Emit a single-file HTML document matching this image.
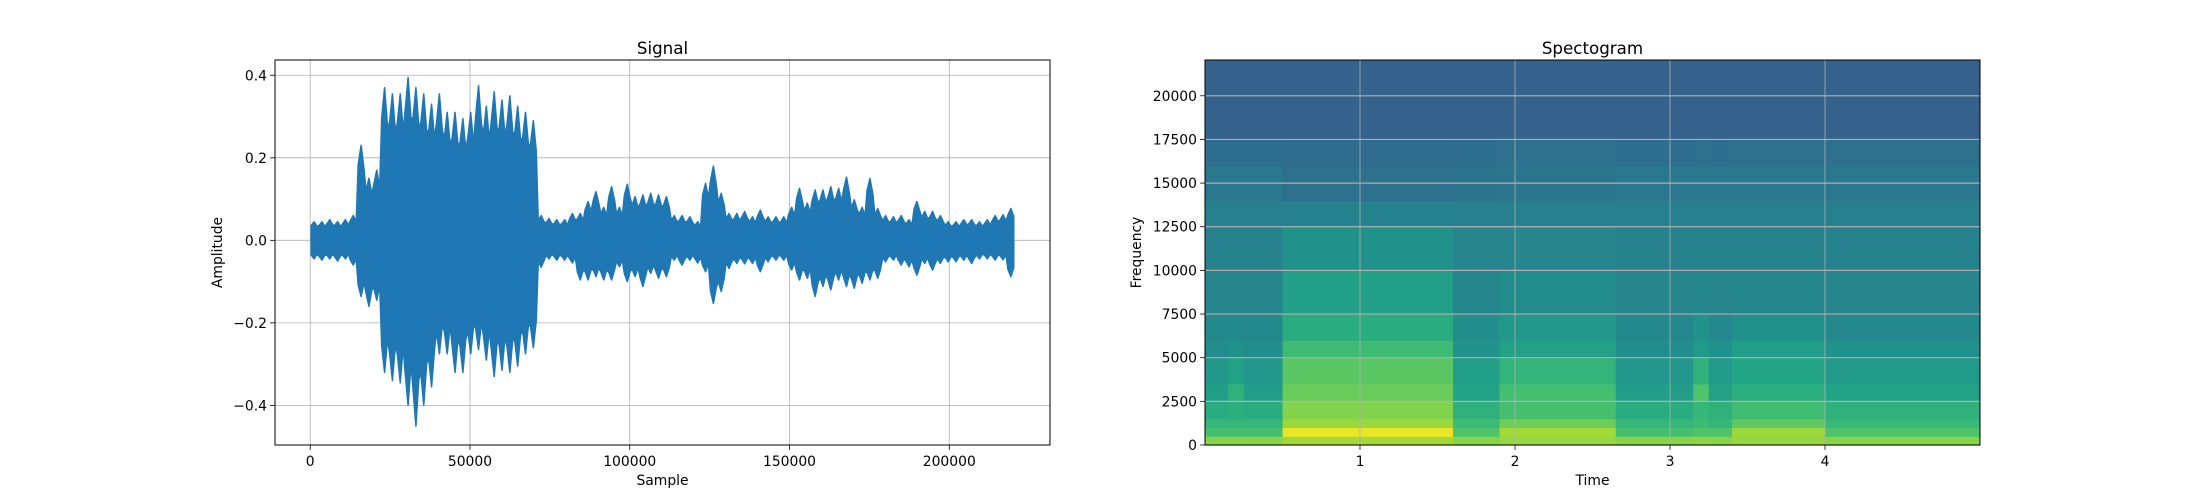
<!DOCTYPE html>
<html><head><meta charset="utf-8"><style>
html,body{margin:0;padding:0;background:#fff;}
svg{display:block;font-family:"DejaVu Sans","Liberation Sans",sans-serif;}
</style></head><body>
<svg id="fig" width="2200" height="500" xmlns="http://www.w3.org/2000/svg"></svg>
<script>
// ---- Signal data: per-bin envelope (bin = 2450 samples) ----
const binSize = 2450;
const sigMax = [0.045,0.045,0.05,0.045,0.05,0.06,0.23,0.15,0.17,0.37,0.355,0.355,0.395,0.37,0.355,0.33,0.355,0.31,0.31,0.295,0.31,0.375,0.325,0.36,0.34,0.35,0.325,0.31,0.29,0.06,0.053,0.05,0.05,0.065,0.065,0.094,0.118,0.08,0.13,0.08,0.136,0.106,0.11,0.114,0.11,0.106,0.06,0.06,0.057,0.045,0.138,0.18,0.114,0.065,0.065,0.07,0.057,0.073,0.057,0.057,0.057,0.08,0.126,0.09,0.122,0.122,0.13,0.126,0.153,0.098,0.08,0.15,0.077,0.06,0.057,0.06,0.05,0.094,0.07,0.07,0.06,0.045,0.045,0.05,0.05,0.045,0.05,0.06,0.062,0.077];
const sigMin = [-0.045,-0.048,-0.045,-0.05,-0.045,-0.06,-0.136,-0.16,-0.145,-0.32,-0.34,-0.345,-0.40,-0.45,-0.40,-0.355,-0.275,-0.275,-0.32,-0.32,-0.275,-0.265,-0.29,-0.33,-0.315,-0.32,-0.305,-0.275,-0.26,-0.065,-0.045,-0.048,-0.048,-0.055,-0.096,-0.096,-0.088,-0.096,-0.096,-0.064,-0.1,-0.088,-0.112,-0.08,-0.092,-0.088,-0.048,-0.06,-0.048,-0.055,-0.076,-0.153,-0.124,-0.068,-0.056,-0.057,-0.056,-0.076,-0.052,-0.048,-0.048,-0.072,-0.096,-0.092,-0.136,-0.112,-0.12,-0.096,-0.112,-0.116,-0.104,-0.096,-0.092,-0.052,-0.048,-0.06,-0.064,-0.084,-0.056,-0.072,-0.056,-0.052,-0.052,-0.048,-0.056,-0.045,-0.045,-0.048,-0.047,-0.088];
const sigXTicks = [0,50000,100000,150000,200000];
const sigXTickLabels = ["0","50000","100000","150000","200000"];
const sigYTicks = [-0.4,-0.2,0.0,0.2,0.4];
const sigYTickLabels = ["\u22120.4","\u22120.2","0.0","0.2","0.4"];

// ---- Spectrogram data ----
const timeEdges = [0,0.15,0.25,0.5,1.6,1.9,2.65,3.15,3.25,3.4,4.0,5.0];
const freqEdges = [0,500,1000,1500,2500,3500,5000,6000,7500,10000,12500,14000,16000,17500,22050];
const specValues = [
 [0.82,0.82,0.82,0.86,0.82,0.84,0.82,0.83,0.82,0.84,0.82],
 [0.70,0.70,0.70,0.97,0.72,0.86,0.70,0.72,0.72,0.85,0.72],
 [0.66,0.66,0.66,0.85,0.68,0.78,0.66,0.68,0.66,0.75,0.67],
 [0.62,0.63,0.62,0.81,0.64,0.70,0.62,0.66,0.64,0.69,0.64],
 [0.55,0.64,0.55,0.77,0.58,0.70,0.55,0.72,0.57,0.63,0.58],
 [0.52,0.58,0.52,0.74,0.56,0.65,0.52,0.64,0.54,0.59,0.54],
 [0.48,0.50,0.48,0.68,0.51,0.57,0.48,0.54,0.50,0.55,0.50],
 [0.47,0.47,0.47,0.62,0.49,0.53,0.47,0.51,0.47,0.50,0.47],
 [0.45,0.45,0.45,0.56,0.46,0.48,0.45,0.46,0.45,0.46,0.45],
 [0.44,0.44,0.44,0.50,0.45,0.45,0.44,0.44,0.44,0.44,0.44],
 [0.43,0.43,0.43,0.44,0.43,0.43,0.43,0.43,0.43,0.43,0.43],
 [0.40,0.40,0.40,0.37,0.38,0.39,0.40,0.40,0.40,0.40,0.40],
 [0.36,0.36,0.36,0.35,0.36,0.37,0.36,0.37,0.36,0.37,0.37],
 [0.31,0.31,0.31,0.31,0.31,0.31,0.31,0.31,0.31,0.31,0.31]
];
const specXTicks = [1,2,3,4];
const specXTickLabels = ["1","2","3","4"];
const specYTicks = [0,2500,5000,7500,10000,12500,15000,17500,20000];
const specYTickLabels = ["0","2500","5000","7500","10000","12500","15000","17500","20000"];

const NS="http://www.w3.org/2000/svg";
const svg=document.getElementById('fig');
function mk(tag,attrs,parent){const e=document.createElementNS(NS,tag);for(const k in attrs)e.setAttribute(k,attrs[k]);(parent||svg).appendChild(e);return e;}

const A1={l:275,r:1050,t:60,b:445,x0:-11025,x1:231525,y0:-0.496,y1:0.437};
const A2={l:1205,r:1980,t:60,b:445,x0:0,x1:5.0,y0:0,y1:22050};
function sx(a,v){return a.l+(v-a.x0)/(a.x1-a.x0)*(a.r-a.l);}
function sy(a,v){return a.b-(v-a.y0)/(a.y1-a.y0)*(a.b-a.t);}

const vir=[[68,1,84],[72,36,117],[65,68,135],[53,95,141],[42,120,142],[33,145,140],[34,168,132],[68,191,112],[122,209,81],[189,223,38],[253,231,37]];
function viridis(v){v=Math.max(0,Math.min(1,v))*10;const i=Math.min(9,Math.floor(v)),f=v-i;const a=vir[i],b=vir[i+1];return 'rgb('+a.map((c,k)=>Math.round(c+(b[k]-c)*f)).join(',')+')';}

// ===== Signal axes =====
const g1=mk('g',{});


sigXTicks.forEach((t,i)=>{const x=sx(A1,t);
 const gl=mk('line',{x1:x,x2:x,y1:A1.t,y2:A1.b,stroke:'#b0b0b0','stroke-width':0.8},g1);
 
 const tk=mk('line',{x1:x,x2:x,y1:A1.b,y2:A1.b+4.9,stroke:'#000','stroke-width':0.8},g1);
 
 const tl=mk('text',{x:x,y:A1.b+21,'font-size':13.9,'text-anchor':'middle',fill:'#000'},g1);tl.textContent=sigXTickLabels[i];
 });
sigYTicks.forEach((t,i)=>{const y=sy(A1,t);
 const gl=mk('line',{x1:A1.l,x2:A1.r,y1:y,y2:y,stroke:'#b0b0b0','stroke-width':0.8},g1);
 
 const tk=mk('line',{x1:A1.l-4.9,x2:A1.l,y1:y,y2:y,stroke:'#000','stroke-width':0.8},g1);
 
 const tl=mk('text',{x:A1.l-8,y:y+5,'font-size':13.9,'text-anchor':'end',fill:'#000'},g1);tl.textContent=sigYTickLabels[i];
 });
let upperPts=[],lowerPts=[];
sigMax.forEach((v,i)=>{const xa=sx(A1,i*binSize),xb=sx(A1,(i+1)*binSize),xm=(xa+xb)/2;
 upperPts.push((xa+1)+','+sy(A1,v*0.8));upperPts.push(xm+','+sy(A1,v));upperPts.push((xb-1)+','+sy(A1,v*0.75));});
sigMin.forEach((v,i)=>{const xa=sx(A1,i*binSize),xb=sx(A1,(i+1)*binSize),xm=(xa+xb)/2;
 lowerPts.push((xa+1)+','+sy(A1,v*0.8));lowerPts.push(xm+','+sy(A1,v));lowerPts.push((xb-1)+','+sy(A1,v*0.75));});
const wave=mk('polygon',{points:upperPts.concat(lowerPts.reverse()).join(' '),fill:'#1f77b4',stroke:'#1f77b4','stroke-width':1.5,'stroke-linejoin':'round'},g1);

const sp1=mk('rect',{x:A1.l,y:A1.t,width:A1.r-A1.l,height:A1.b-A1.t,fill:'none',stroke:'#000','stroke-width':1},g1);

const t1=mk('text',{x:(A1.l+A1.r)/2,y:A1.t-6,'font-size':16.7,'text-anchor':'middle'},g1);t1.textContent='Signal';

const xl1=mk('text',{x:(A1.l+A1.r)/2,y:485,'font-size':13.9,'text-anchor':'middle'},g1);xl1.textContent='Sample';

const yl1=mk('text',{x:0,y:0,'font-size':13.9,'text-anchor':'middle',transform:'translate(222,'+((A1.t+A1.b)/2)+') rotate(-90)'},g1);yl1.textContent='Amplitude';


// ===== Spectrogram axes =====
const g2=mk('g',{});


specValues.forEach((row,fi)=>{row.forEach((v,ti)=>{
 const x=sx(A2,timeEdges[ti]),x2=sx(A2,timeEdges[ti+1]),y=sy(A2,freqEdges[fi+1]),y2=sy(A2,freqEdges[fi]);
 const c=mk('rect',{x:x,y:y,width:x2-x+0.5,height:y2-y+0.5,fill:viridis(v)},g2);
 });});
specXTicks.forEach((t,i)=>{const x=sx(A2,t);
 const gl=mk('line',{x1:x,x2:x,y1:A2.t,y2:A2.b,stroke:'#b0b0b0','stroke-width':0.8},g2);
 
 const tk=mk('line',{x1:x,x2:x,y1:A2.b,y2:A2.b+4.9,stroke:'#000','stroke-width':0.8},g2);
 
 const tl=mk('text',{x:x,y:A2.b+21,'font-size':13.9,'text-anchor':'middle'},g2);tl.textContent=specXTickLabels[i];
 });
specYTicks.forEach((t,i)=>{const y=sy(A2,t);
 const gl=mk('line',{x1:A2.l,x2:A2.r,y1:y,y2:y,stroke:'#b0b0b0','stroke-width':1.2},g2);
 
 const tk=mk('line',{x1:A2.l-4.9,x2:A2.l,y1:y,y2:y,stroke:'#000','stroke-width':0.8},g2);
 
 const tl=mk('text',{x:A2.l-8,y:y+5,'font-size':13.9,'text-anchor':'end'},g2);tl.textContent=specYTickLabels[i];
 });
const sp2=mk('rect',{x:A2.l,y:A2.t,width:A2.r-A2.l,height:A2.b-A2.t,fill:'none',stroke:'#000','stroke-width':1},g2);

const t2=mk('text',{x:(A2.l+A2.r)/2,y:A2.t-6,'font-size':16.7,'text-anchor':'middle'},g2);t2.textContent='Spectogram';

const xl2=mk('text',{x:(A2.l+A2.r)/2,y:485,'font-size':13.9,'text-anchor':'middle'},g2);xl2.textContent='Time';

const yl2=mk('text',{x:0,y:0,'font-size':13.9,'text-anchor':'middle',transform:'translate(1141,'+((A2.t+A2.b)/2)+') rotate(-90)'},g2);yl2.textContent='Frequency';

</script>
</body></html>
